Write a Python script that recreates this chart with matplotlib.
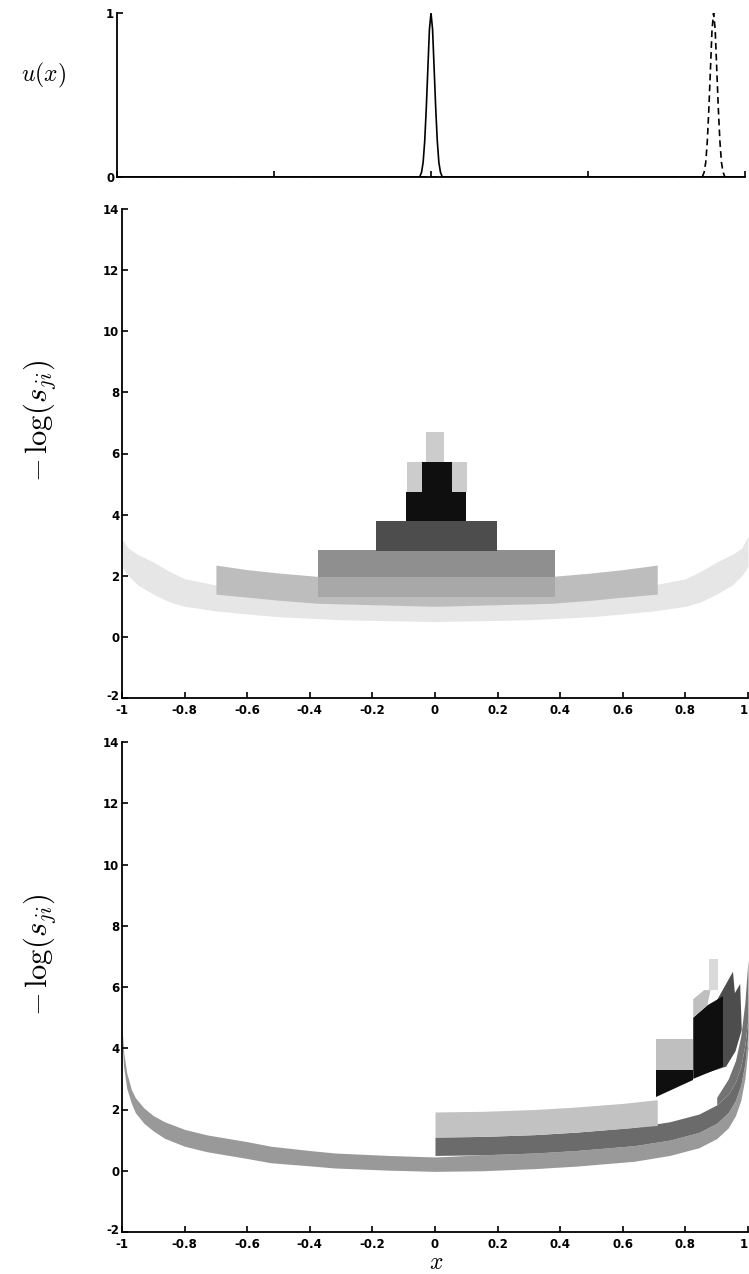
import numpy as np
import matplotlib
matplotlib.use('Agg')
import matplotlib.pyplot as plt
import matplotlib.transforms as mtransforms

plt.rcParams['mathtext.fontset'] = 'cm'
plt.rcParams['axes.unicode_minus'] = False
plt.rcParams['font.family'] = ['DejaVu Sans']

# ---- top panel: u(x)
u_x = [-1.0, -0.036, -0.03, -0.025, -0.02, -0.015, -0.01, -0.005, 0.0,
       0.005, 0.01, 0.015, 0.02, 0.025, 0.03, 0.036, 1.0]
u_solid = [0.0, 0.0, 0.03, 0.09, 0.22, 0.42, 0.66, 0.9, 1.0,
           0.9, 0.66, 0.42, 0.22, 0.09, 0.03, 0.0, 0.0]
u2_x = [-1.0, 0.864, 0.87, 0.875, 0.88, 0.885, 0.89, 0.895, 0.90,
        0.905, 0.91, 0.915, 0.92, 0.925, 0.93, 0.936, 1.0]
u_dash = [0.0, 0.0, 0.03, 0.09, 0.22, 0.42, 0.66, 0.9, 1.0,
          0.9, 0.66, 0.42, 0.22, 0.09, 0.03, 0.0, 0.0]

# ---- middle panel (u centred at 0)
# faint bowl band
mA_x = [-1.0, -0.98, -0.95, -0.9, -0.85, -0.8, -0.7, -0.6, -0.5, -0.3, 0.0,
        0.3, 0.5, 0.6, 0.7, 0.8, 0.85, 0.9, 0.95, 0.98, 1.0]
mA_lo = [2.3, 2.0, 1.7, 1.4, 1.15, 1.0, 0.85, 0.75, 0.66, 0.56, 0.5,
         0.56, 0.66, 0.75, 0.85, 1.0, 1.15, 1.4, 1.7, 2.0, 2.3]
mA_hi = [3.2, 2.9, 2.7, 2.45, 2.15, 1.9, 1.7, 1.6, 1.5, 1.42, 1.4,
         1.42, 1.5, 1.6, 1.7, 1.9, 2.15, 2.45, 2.7, 2.9, 3.3]
# light band
mB_x = [-0.70, -0.6, -0.5, -0.375, 0.0, 0.375, 0.5, 0.6, 0.71]
mB_lo = [1.4, 1.3, 1.2, 1.1, 1.0, 1.1, 1.2, 1.3, 1.4]
mB_hi = [2.35, 2.2, 2.09, 1.98, 1.9, 1.98, 2.09, 2.2, 2.35]
# flat tiles
mid_x0 = [-0.375, -0.375, -0.19, -0.093, -0.091, -0.043, -0.03]
mid_x1 = [0.383, 0.383, 0.198, 0.10, 0.102, 0.055, 0.03]
mid_y0 = [1.3, 1.97, 2.81, 3.78, 4.75, 4.75, 5.73]
mid_y1 = [1.97, 2.84, 3.78, 4.75, 5.73, 5.73, 6.71]
mid_gray = [0.66, 0.56, 0.3, 0.06, 0.8, 0.06, 0.8]

# ---- bottom panel (u centred at 0.9)
bH_x = [-1.0, -0.995, -0.985, -0.97, -0.957, -0.93, -0.9, -0.864, -0.8, -0.728,
        -0.6, -0.524, -0.4, -0.32, -0.15, 0.0, 0.15, 0.32, 0.45, 0.637, 0.75,
        0.843, 0.9, 0.937, 0.96, 0.977, 0.99, 1.0]
bH_lo = [4.3, 3.4, 2.7, 2.2, 1.89, 1.55, 1.3, 1.06, 0.8, 0.62,
         0.4, 0.26, 0.16, 0.09, 0.02, -0.02, 0.0, 0.07, 0.15, 0.31, 0.5,
         0.75, 1.05, 1.4, 1.8, 2.3, 3.0, 4.0]
bH_hi = [4.7, 3.9, 3.2, 2.65, 2.38, 2.05, 1.8, 1.6, 1.35, 1.17,
         0.95, 0.8, 0.66, 0.58, 0.5, 0.45, 0.52, 0.58, 0.66, 0.82, 1.0,
         1.25, 1.55, 1.9, 2.3, 2.8, 3.5, 4.5]
bI_x = [0.0, 0.15, 0.32, 0.45, 0.637, 0.75, 0.843, 0.9, 0.937, 0.96, 0.977, 0.99, 1.0]
bI_lo = [0.5, 0.52, 0.58, 0.66, 0.82, 1.0, 1.25, 1.55, 1.9, 2.3, 2.8, 3.5, 4.5]
bI_hi = [1.1, 1.12, 1.18, 1.26, 1.42, 1.6, 1.85, 2.15, 2.5, 2.9, 3.4, 4.1, 5.0]
bJ_x = [0.0, 0.15, 0.32, 0.45, 0.6, 0.71]
bJ_lo = [1.1, 1.12, 1.18, 1.26, 1.38, 1.48]
bJ_hi = [1.92, 1.94, 2.0, 2.08, 2.2, 2.32]
bL_x = [0.9, 0.937, 0.96, 0.977, 0.99, 1.0]
bL_lo = [2.15, 2.5, 2.9, 3.4, 4.1, 5.0]
bL_hi = [2.4, 3.0, 3.6, 4.4, 5.5, 6.9]
# tiles of the cluster near x = 0.9 (outline vertices)
dark_px = [0.87, 0.93, 0.952, 0.958, 0.975, 0.98, 0.96, 0.93, 0.87]
dark_py = [5.0, 6.1, 6.5, 5.8, 6.1, 4.6, 3.9, 3.4, 3.2]
blk2_px = [0.825, 0.825, 0.87, 0.92, 0.92]
blk2_py = [3.0, 5.0, 5.4, 5.7, 3.4]
lit2_px = [0.825, 0.825, 0.86, 0.88, 0.87]
lit2_py = [5.0, 5.6, 5.9, 5.9, 5.4]
cap_px = [0.875, 0.875, 0.905, 0.905]
cap_py = [5.9, 6.9, 6.9, 5.9]
blk1_px = [0.705, 0.705, 0.825, 0.825]
blk1_py = [2.4, 3.3, 3.3, 2.95]
lit1_px = [0.705, 0.705, 0.825, 0.825]
lit1_py = [3.3, 4.3, 4.3, 3.3]

xticks = [-1, -0.8, -0.6, -0.4, -0.2, 0, 0.2, 0.4, 0.6, 0.8, 1]
xlabels = ['-1', '-0.8', '-0.6', '-0.4', '-0.2', '0', '0.2', '0.4', '0.6', '0.8', '1']
yticks = [-2, 0, 2, 4, 6, 8, 10, 12, 14]

W, H = 749, 1274
fig = plt.figure(figsize=(W / 100, H / 100), dpi=100)


def style(ax):
    ax.spines['top'].set_visible(False)
    ax.spines['right'].set_visible(False)
    for s in ('left', 'bottom'):
        ax.spines[s].set_linewidth(1.3)
    ax.tick_params(direction='in', length=4, width=1.2, labelsize=8.5)
    ax.tick_params(axis='y', pad=2)
    ax.tick_params(axis='x', pad=4)
    for lab in ax.get_xticklabels() + ax.get_yticklabels():
        lab.set_fontweight('bold')


def gray(g):
    return (g, g, g)


# top
ax0 = fig.add_axes([117 / W, 1 - 177 / H, 628 / W, 164 / H])
ax0.plot(u_x, u_solid, color='k', lw=1.2)
ax0.plot(u2_x, u_dash, color='k', lw=1.2, ls=(0, (4, 2.5)))
ax0.set_xlim(-1, 1)
ax0.set_ylim(0, 1)
ax0.set_xticks([-1, -0.5, 0, 0.5, 1])
ax0.set_xticklabels([])
ax0.set_yticks([0, 1])
style(ax0)
fig.text(44 / W, 1 - 75 / H, r'$u(x)$', fontsize=17, ha='center', va='center')

# middle
ax1 = fig.add_axes([122 / W, 1 - 698 / H, 626 / W, 489 / H])
ax1.fill_between(mA_x, mA_lo, mA_hi, color=gray(0.9), lw=0)
ax1.fill_between(mB_x, mB_lo, mB_hi, color=gray(0.74), lw=0)
for x0, x1, y0, y1, g in zip(mid_x0, mid_x1, mid_y0, mid_y1, mid_gray):
    ax1.bar(x0, y1 - y0, width=x1 - x0, bottom=y0, align='edge',
            color=gray(g), lw=0)

# bottom
ax2 = fig.add_axes([122 / W, 1 - 1232 / H, 626 / W, 490 / H])
ax2.fill_between(bH_x, bH_lo, bH_hi, color=gray(0.6), lw=0)
ax2.fill_between(bI_x, bI_lo, bI_hi, color=gray(0.42), lw=0)
ax2.fill_between(bJ_x, bJ_lo, bJ_hi, color=gray(0.76), lw=0)
ax2.fill_between(bL_x, bL_lo, bL_hi, color=gray(0.45), lw=0)
ax2.fill(dark_px, dark_py, color=gray(0.3), lw=0)
ax2.fill(blk2_px, blk2_py, color=gray(0.06), lw=0)
ax2.fill(lit2_px, lit2_py, color=gray(0.75), lw=0)
ax2.fill(cap_px, cap_py, color=gray(0.85), lw=0)
ax2.fill(blk1_px, blk1_py, color=gray(0.06), lw=0)
ax2.fill(lit1_px, lit1_py, color=gray(0.75), lw=0)

for ax in (ax1, ax2):
    ax.set_xlim(-1, 1)
    ax.set_ylim(-2, 14)
    ax.set_xticks(xticks)
    ax.set_xticklabels(xlabels)
    ax.set_yticks(yticks)
    style(ax)
    # lift the "-2" label a little so it clears the "-1" below it
    lab = ax.get_yticklabels()[0]
    lab.set_transform(lab.get_transform() +
                      mtransforms.ScaledTranslation(0, 3 / 100, fig.dpi_scale_trans))
    # keep the last x label inside the figure edge
    ax.get_xticklabels()[-1].set_horizontalalignment('right')

fig.text(40 / W, 1 - 421 / H, r'$-\,\log(s_{ji})$', fontsize=22, rotation=90,
         ha='center', va='center')
fig.text(40 / W, 1 - 955 / H, r'$-\,\log(s_{ji})$', fontsize=22, rotation=90,
         ha='center', va='center')
fig.text(436 / W, 1 - 1262 / H, r'$x$', fontsize=17, ha='center', va='center')

fig.savefig('out.png', dpi=100)
